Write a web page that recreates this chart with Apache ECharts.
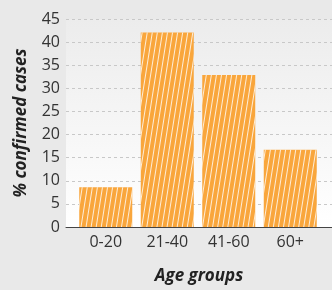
<!DOCTYPE html>
<html>
<head>
<meta charset="utf-8">
<script src="https://cdn.jsdelivr.net/npm/echarts@6/dist/echarts.min.js"></script>
<style>
  html, body { margin: 0; padding: 0; background: #e9e9e9; }
  #chart { width: 332px; height: 290px; }
</style>
</head>
<body>
<div id="chart"></div>
<script>
// data
var ageGroups = ["0-20", "21-40", "41-60", "60+"];
var confirmedPct = [8.6, 42.1, 32.9, 16.7];
var yMin = 0, yMax = 45, yStep = 5;

var chart = echarts.init(document.getElementById("chart"));
var font = "Open Sans";

var option = {
    backgroundColor: "#e9e9e9",
    animation: false,
    grid: [
        // frame grid: background, gridlines, y labels, axis line
        {
            left: 66, right: 0, top: 19, bottom: 63,
            show: true, borderWidth: 0,
            backgroundColor: {
                type: "linear", x: 0, y: 0, x2: 0, y2: 1,
                colorStops: [{offset: 0, color: "#ececec"}, {offset: 1, color: "#ffffff"}]
            }
        },
        // bar grid
        {left: 75, right: 11, top: 19, bottom: 63}
    ],
    xAxis: [
        {
            gridIndex: 0, type: "value", min: 0, max: 1,
            axisLine: {show: true, onZero: false, lineStyle: {color: "#444", width: 1}},
            axisTick: {show: false}, axisLabel: {show: false}, splitLine: {show: false},
            name: "Age groups", nameLocation: "middle", nameGap: 41,
            nameTextStyle: {fontFamily: font, fontSize: 17, fontWeight: "bold", fontStyle: "italic", color: "#222"}
        },
        {
            gridIndex: 1, type: "category", data: ageGroups,
            axisLine: {show: false}, axisTick: {show: false},
            axisLabel: {fontFamily: font, fontSize: 16, color: "#333", margin: 7}
        }
    ],
    yAxis: [
        {
            gridIndex: 0, type: "value", min: yMin, max: yMax, interval: yStep,
            axisLine: {show: false}, axisTick: {show: false},
            axisLabel: {fontFamily: font, fontSize: 16, color: "#333", margin: 6},
            splitLine: {show: true, lineStyle: {color: "#c8c8c8", type: [3, 3]}},
            name: "% confirmed cases", nameLocation: "middle", nameGap: 36,
            nameTextStyle: {fontFamily: font, fontSize: 17, fontWeight: "bold", fontStyle: "italic", color: "#222"}
        },
        {
            gridIndex: 1, type: "value", min: yMin, max: yMax, interval: yStep,
            show: false, splitLine: {show: false}
        }
    ],
    series: [{
        type: "bar",
        xAxisIndex: 1, yAxisIndex: 1,
        data: confirmedPct,
        barWidth: 53,
        z: 3,
        itemStyle: {
            color: "#f9a63c",
            decal: {
                symbol: "rect",
                color: "rgba(255,255,255,0.8)",
                dashArrayX: [1, 0],
                dashArrayY: [1, 4],
                rotation: -Math.PI * 0.45
            }
        }
    }]
};
chart.setOption(option);
</script>
</body>
</html>
